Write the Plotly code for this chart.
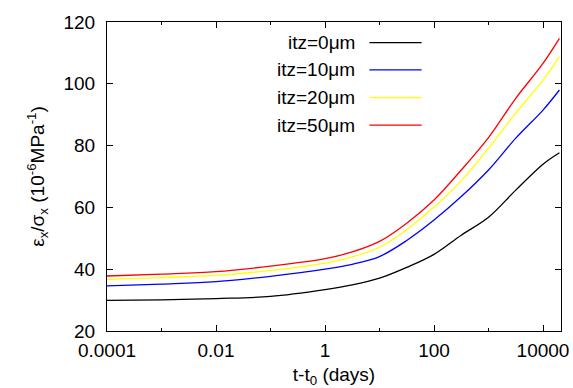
import plotly.graph_objects as go

# Data
t_days = [1e-4, 1e-3, 1e-2, 1e-1, 1, 3.16, 10, 31.6, 100, 316, 1000, 3162, 1e4, 2e4]
itz0 = [29.9, 30.1, 30.5, 31.2, 33.4, 34.9, 37.1, 40.6, 44.8, 51.0, 56.8, 65.6, 74.0, 77.7]
itz10 = [34.6, 35.2, 36.0, 37.7, 40.0, 41.6, 44.1, 49.3, 55.9, 63.5, 72.1, 82.4, 91.5, 98.0]
itz20 = [36.7, 37.3, 38.0, 39.6, 42.0, 44.0, 47.1, 52.8, 60.1, 68.6, 79.1, 90.5, 101.2, 108.8]
itz50 = [37.8, 38.4, 39.2, 41.0, 43.4, 45.6, 49.0, 54.9, 62.4, 72.1, 82.6, 95.3, 106.6, 114.7]

series_names = ["itz=0μm", "itz=10μm", "itz=20μm", "itz=50μm"]
series_values = [itz0, itz10, itz20, itz50]
series_colors = ["#000000", "#0000ff", "#ffff00", "#ff0000"]

x_tickvals = [1e-4, 1e-2, 1, 100, 1e4]
x_ticktext = ["0.0001", "0.01", "1", "100", "10000"]
x_minor = [1e-3, 1e-1, 10, 1000]
y_tickvals = [20, 40, 60, 80, 100, 120]

fig = go.Figure()
for name, vals, col in zip(series_names, series_values, series_colors):
    fig.add_trace(go.Scatter(x=t_days, y=vals, mode="lines", name=name,
                             line=dict(color=col, width=1.3, shape="spline", smoothing=1.0),
                             showlegend=False))

# manual legend (text right-aligned, sample line on the right)
leg_y = [0.933, 0.845, 0.755, 0.666]
for name, col, yy in zip(series_names, series_colors, leg_y):
    fig.add_annotation(x=0.550, y=yy, xref="paper", yref="paper", text=name,
                       showarrow=False, xanchor="right", yanchor="middle",
                       font=dict(size=19, color="#000000"))
    fig.add_shape(type="line", xref="paper", yref="paper", x0=0.578, x1=0.693,
                  y0=yy, y1=yy, line=dict(color=col, width=1.3))

font_family = "Liberation Sans, Arial, sans-serif"
fig.update_layout(
    width=573, height=388,
    margin=dict(l=107, r=12, t=22, b=57),
    paper_bgcolor="white", plot_bgcolor="white",
    font=dict(family=font_family, size=19, color="#000000"),
)
fig.update_xaxes(
    type="log", range=[-4, 4.33], automargin=False,
    tickvals=x_tickvals, ticktext=x_ticktext,
    ticks="inside", ticklen=6, tickcolor="#000000", tickwidth=1,
    minor=dict(tickvals=x_minor, ticks="inside", ticklen=3, tickcolor="#000000"),
    showline=True, linecolor="#000000", linewidth=1.2, mirror="ticks",
    showgrid=False, zeroline=False, tickfont=dict(size=19), ticklabelstandoff=2,
    title=dict(text="t-t<sub>0</sub> (days)", standoff=8, font=dict(size=19)),
)
fig.update_yaxes(
    range=[20, 120], tickvals=y_tickvals, automargin=False,
    ticks="inside", ticklen=6, tickcolor="#000000", tickwidth=1,
    showline=True, linecolor="#000000", linewidth=1.2, mirror="ticks",
    showgrid=False, zeroline=False, ticklabelstandoff=7, tickfont=dict(size=19),
    title=dict(text="ε<sub>x</sub>/σ<sub>x</sub> (10<sup>-6</sup>MPa<sup>-1</sup>)",
               standoff=13, font=dict(size=19)),
)

fig.write_html("out.html")
